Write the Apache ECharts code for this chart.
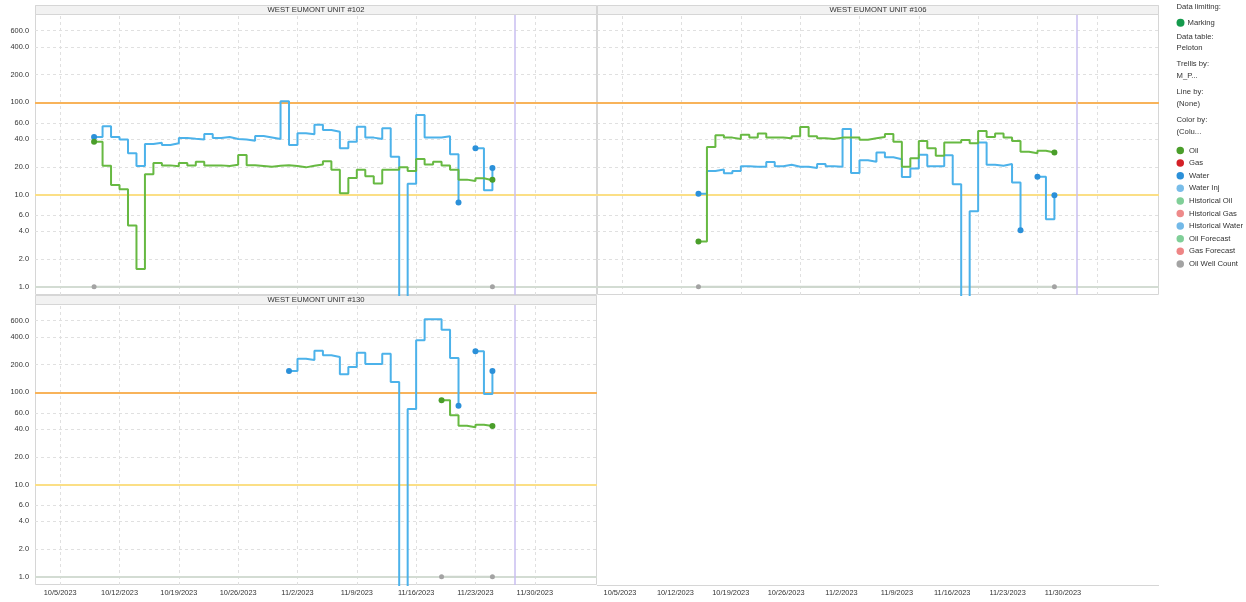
<!DOCTYPE html>
<html>
<head>
<meta charset="utf-8">
<script src="https://cdn.jsdelivr.net/npm/echarts@6/dist/echarts.min.js"></script>
<style>
html, body { margin: 0; padding: 0; background: #fff; }
#chart { width: 1246px; height: 602px; }
</style>
</head>
<body>
<div id="chart"></div>
<script>
// daily values (null = no reading, 0 = zero reading)
const wells = ['WEST EUMONT UNIT #102', 'WEST EUMONT UNIT #106', 'WEST EUMONT UNIT #130'];

const u102Start = '2023-10-09';
const u102Oil = [37.4, 20.5, 12.7, 11.4, 4.6, 1.56, 16.6, 22, 20.7, 20.2, 22, 20.7, 22.7, 20.7, 20.7, 20.4, 21, 26.8, 20.8, 20.4, 20, 20.5, 20.8,
    20.4, 19.7, 20.5, 21.2, 23, 18.6, 10.3, 15.1, 18.6, 15.8, 13.2, 18.6, 18.6, 19.7, 18, 24.3, 21.2, 22.7, 20.7, 18.6, 14.5, 14, 15, 14.3, 14.5];
const u102Water = [42, 55, 42, 39.5, 28, 20.4, 35.3, 36.5, 34.4, 36, 41, 40.2, 39.5, 45.3, 41, 42, 40, 39.5, 38.3, 43, 41.5, 40, 103,
    34.4, 46.1, 45, 57.2, 50, 48, 31.7, 37.4, 54.4, 41.4, 40, 52.2, 25.7, 0, 13.1, 72.8, 41.6, 41.6, 42.8, 27.3, 8.2, null, 31.7, 11.1, 19.4];
const u102Count = [1, 1, 1, 1, 1, 1, 1, 1, 1, 1, 1, 1, 1, 1, 1, 1, 1, 1, 1, 1, 1, 1, 1, 1,
    1, 1, 1, 1, 1, 1, 1, 1, 1, 1, 1, 1, 1, 1, 1, 1, 1, 1, 1, 1, 1, 1, 1, 1];

const u106Start = '2023-10-14';
const u106Oil = [3.1, 32.7, 44, 41.4, 40, 44.5, 41.6, 46, 41.6, 41.4, 40.7, 42.8, 54, 42.8, 40.7, 40, 41.4, 41.4,
    41.4, 39.3, 40.7, 42, 45.3, 37.4, 20, 24.8, 38, 31.7, 26.3, 36.7, 36.7, 39, 36, 48.8, 42, 46, 41.4, 38, 29.1, 28, 29.9, 28.6, 28.6];
const u106Water = [10.2, 18, 18.7, 17, 18, 20.2, 20, 20, 22.5, 20.3, 21, 20, 20, 19.4, 21.4, 20.2, 20, 51.3,
    17.1, 23.5, 22.7, 28.5, 25.3, 24.1, 15.5, 19.1, 27, 20.2, 20.2, 26.6, 12.9, 0, 6.6, 36.7, 21, 20.5, 21.4, 13.5, 4.1, null, 15.6, 5.4, 9.8];
const u106Count = [1, 1, 1, 1, 1, 1, 1, 1, 1, 1, 1, 1, 1, 1, 1, 1, 1, 1, 1, 1, 1,
    1, 1, 1, 1, 1, 1, 1, 1, 1, 1, 1, 1, 1, 1, 1, 1, 1, 1, 1, 1, 1, 1];

const u130WaterStart = '2023-11-01';
const u130Water = [170, 231, 224, 282, 252, 242, 157, 188, 269, 203, 203, 262, 129, 0, 66, 366, 619, 619, 477, 235, 71.6, null, 278, 95.8, 170];
const u130OilStart = '2023-11-19';
const u130Oil = [81.9, 56.3, 43.4, 41.8, 44.6, 43.1, 43.1];
const u130Count = [1, 1, 1, 1, 1, 1, 1];

const xTicks = ['2023-10-05', '2023-10-12', '2023-10-19', '2023-10-26', '2023-11-02', '2023-11-09', '2023-11-16', '2023-11-23', '2023-11-30'];
const yTicks = [1, 2, 4, 6, 10, 20, 40, 60, 100, 200, 400, 600];
const limitValues = [100, 10, 1];
const todayMark = '2023-11-27T14:00:00Z';

const legendNames = ['Oil', 'Gas', 'Water', 'Water Inj', 'Historical Oil', 'Historical Gas', 'Historical Water', 'Oil Forecast', 'Gas Forecast', 'Oil Well Count'];
const infoLabels = ['Data limiting:', 'Marking', 'Data table:', 'Peloton', 'Trellis by:', 'M_P...', 'Line by:', '(None)', 'Color by:', '(Colu...'];

// ---- styling ----
const FONT = '"Liberation Sans", Arial, sans-serif';
const DAY = 86400000;
const FLOOR = 0.01;   // zero readings can't sit on a log axis: drop them below the floor, clip does the rest
const legendColors = {
    'Oil': '#4a9e2a', 'Gas': '#d42027', 'Water': '#2b90d9', 'Water Inj': '#79bde9',
    'Historical Oil': '#80cf98', 'Historical Gas': '#ee8a8a', 'Historical Water': '#73b9e8',
    'Oil Forecast': '#80cf98', 'Gas Forecast': '#ee8585', 'Oil Well Count': '#a3a3a3'
};
const limitColors = ['#f8b35a', '#fbdf86', '#d3dcd3'];

function ts(s) { return Date.parse(s.length > 10 ? s : s + 'T00:00:00Z'); }
function fmtDate(t) {
    const d = new Date(t);
    return (d.getUTCMonth() + 1) + '/' + d.getUTCDate() + '/' + d.getUTCFullYear();
}
// day-by-day points, a dot wherever a run of readings starts or stops
function daily(start, values) {
    const t0 = ts(start);
    return values.map(function (v, i) {
        if (v == null) return { value: ['-', '-'] };   // fully empty so the step does not run on into the gap
        const edge = i === 0 || values[i - 1] == null || i === values.length - 1 || values[i + 1] == null;
        const item = { value: [t0 + i * DAY, v === 0 ? FLOOR : v] };
        if (edge) item.symbol = 'circle';
        return item;
    });
}

const panels = [
    { title: wells[0], oil: daily(u102Start, u102Oil), water: daily(u102Start, u102Water), count: daily(u102Start, u102Count), yLab: true, xLab: false },
    { title: wells[1], oil: daily(u106Start, u106Oil), water: daily(u106Start, u106Water), count: daily(u106Start, u106Count), yLab: false, xLab: false },
    { title: wells[2], oil: daily(u130OilStart, u130Oil), water: daily(u130WaterStart, u130Water), count: daily(u130OilStart, u130Count), yLab: true, xLab: true }
];
const boxes = [
    { left: 35, top: 15, width: 562, height: 280 },
    { left: 597, top: 15, width: 562, height: 280 },
    { left: 35, top: 305, width: 562, height: 280 },
    { left: 597, top: 305, width: 562, height: 280 }   // empty cell, carries the right-hand date axis
];

const grid = boxes.map(function (b) { return Object.assign({ containLabel: false }, b); });
const hidden = { axisLine: { show: false }, axisTick: { show: false }, axisLabel: { show: false }, splitLine: { show: false } };
const xAxis = boxes.map(function (b, i) {
    return Object.assign({
        type: 'value', gridIndex: i,
        min: i < 3 ? ts('2023-10-02T00:40:00Z') : ts('2023-10-02T02:10:00Z'),
        max: i < 3 ? ts('2023-12-07T08:10:00Z') : ts('2023-12-12T03:20:00Z')
    }, hidden);
});
const yAxis = boxes.map(function (b, i) {
    return Object.assign(i < 3 ? { type: 'log', min: 0.813, max: 885 } : { type: 'value', min: 0, max: 1 }, { gridIndex: i }, hidden);
});

const tickLabel = { fontSize: 7.4, color: '#333', fontFamily: FONT };
const series = [];

panels.forEach(function (p, g) {
    // dashed grid, with tick labels on the outer panels
    series.push({
        type: 'line', xAxisIndex: g, yAxisIndex: g, data: [], z: 1, silent: true,
        markLine: {
            z: 1, silent: true, symbol: ['none', 'none'], animation: false,
            lineStyle: { color: '#e0e0e0', type: [3, 3], width: 1 },
            data: xTicks.map(function (d) {
                return { xAxis: ts(d), label: Object.assign({ show: p.xLab, position: 'start', distance: 4, formatter: fmtDate(ts(d)) }, tickLabel) };
            }).concat(yTicks.map(function (v) {
                return { yAxis: v, label: Object.assign({ show: p.yLab, position: 'start', distance: 6, formatter: v.toFixed(1) }, tickLabel) };
            }))
        }
    });
    // limit lines and the current-date marker
    series.push({
        type: 'line', xAxisIndex: g, yAxisIndex: g, data: [], z: 2, silent: true,
        markLine: {
            z: 2, silent: true, symbol: ['none', 'none'], animation: false, label: { show: false },
            data: limitValues.map(function (v, k) {
                return { yAxis: v, lineStyle: { color: limitColors[k], width: 2, type: 'solid' } };
            }).concat([{ xAxis: ts(todayMark), lineStyle: { color: '#c9bef1', width: 1.5, type: 'solid' } }])
        }
    });
    series.push({
        name: 'Oil Well Count', type: 'line', xAxisIndex: g, yAxisIndex: g, step: 'end', z: 6,
        symbol: 'none', symbolSize: 5, showSymbol: true, data: p.count,
        lineStyle: { color: '#cdd6cd', width: 2 }, itemStyle: { color: legendColors['Oil Well Count'], borderWidth: 0 }
    });
    series.push({
        name: 'Water', type: 'line', xAxisIndex: g, yAxisIndex: g, step: 'end', z: 7,
        symbol: 'none', symbolSize: 6, showSymbol: true, data: p.water,
        lineStyle: { color: '#4cb2ea', width: 2 }, itemStyle: { color: legendColors['Water'], borderWidth: 0 }
    });
    series.push({
        name: 'Oil', type: 'line', xAxisIndex: g, yAxisIndex: g, step: 'end', z: 8,
        symbol: 'none', symbolSize: 6, showSymbol: true, data: p.oil,
        lineStyle: { color: '#67b942', width: 2 }, itemStyle: { color: legendColors['Oil'], borderWidth: 0 }
    });
});

// date labels under the empty right-hand cell
series.push({
    type: 'line', xAxisIndex: 3, yAxisIndex: 3, data: [], silent: true,
    markLine: {
        z: 1, silent: true, symbol: ['none', 'none'], animation: false,
        lineStyle: { color: 'rgba(0,0,0,0)', width: 0 },
        data: xTicks.map(function (d) {
            return { xAxis: ts(d), label: Object.assign({ show: true, position: 'start', distance: 4, formatter: fmtDate(ts(d)) }, tickLabel) };
        })
    }
});

// legend-only categories with no data in this view
legendNames.forEach(function (n) {
    if (n === 'Oil' || n === 'Water' || n === 'Oil Well Count') return;
    series.push({ name: n, type: 'line', xAxisIndex: 0, yAxisIndex: 0, data: [], itemStyle: { color: legendColors[n] } });
});

// panel frames, headers, and the info block at the right
const graphic = [];
boxes.slice(0, 3).forEach(function (b, i) {
    graphic.push({ type: 'rect', z: 0, shape: { x: b.left + 0.5, y: b.top - 9.5, width: b.width - 1, height: b.height + 9 }, style: { fill: 'none', stroke: '#d6d6d6', lineWidth: 1 } });
    graphic.push({ type: 'rect', z: 0, shape: { x: b.left + 0.5, y: b.top - 9.5, width: b.width - 1, height: 9 }, style: { fill: '#f2f2f2', stroke: '#d6d6d6', lineWidth: 1 } });
    graphic.push({ type: 'text', z: 1, x: b.left + b.width / 2, y: b.top - 5, style: { text: panels[i].title, fill: '#333', font: '7.7px ' + FONT, textAlign: 'center', textVerticalAlign: 'middle' } });
});
graphic.push({ type: 'line', shape: { x1: 597, y1: 585.5, x2: 1159, y2: 585.5 }, style: { stroke: '#d6d6d6', lineWidth: 1 } });

const infoY = [7.3, 22.7, 37, 48.3, 64, 76, 92.3, 103.7, 120.3, 132];
infoLabels.forEach(function (t, k) {
    graphic.push({ type: 'text', x: k === 1 ? 1187.5 : 1176.5, y: infoY[k], style: { text: t, fill: '#333', font: '7.7px ' + FONT, textVerticalAlign: 'middle' } });
});
graphic.push({ type: 'circle', shape: { cx: 1180.5, cy: 22.7, r: 4 }, style: { fill: '#149a4c' } });

const chart = echarts.init(document.getElementById('chart'), null, { renderer: 'canvas' });
chart.setOption({
    animation: false,
    backgroundColor: '#fff',
    grid: grid,
    xAxis: xAxis,
    yAxis: yAxis,
    legend: {
        data: legendNames, orient: 'vertical', left: 1176.5, top: 145.5, padding: 0, selectedMode: false,
        icon: 'circle', itemWidth: 7.5, itemHeight: 7.5, itemGap: 2.6,
        itemStyle: { borderWidth: 0 },
        textStyle: { fontSize: 7.7, color: '#333', fontFamily: FONT, lineHeight: 10 }
    },
    graphic: graphic,
    series: series
});
</script>
</body>
</html>
